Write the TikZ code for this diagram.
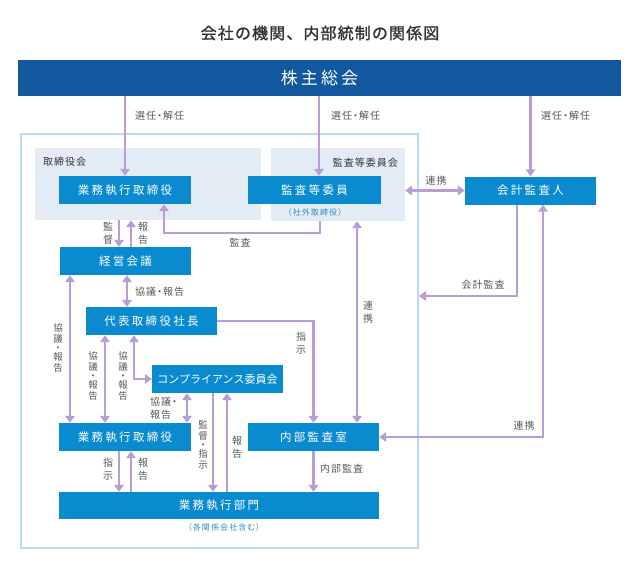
\documentclass[tikz,border=0pt]{standalone}
\usepackage{fontspec}
\setmainfont{Noto Sans CJK JP}
\newfontfamily\jp{Noto Sans CJK JP}
\newfontfamily\jpt[LetterSpace=7,FakeBold=1.2]{Noto Sans CJK JP}
\newfontfamily\jpbar[LetterSpace=18]{Noto Sans CJK JP}
\newfontfamily\jpbox[LetterSpace=20]{Noto Sans CJK JP}
\newfontfamily\jplbl[LetterSpace=10,RawFeature=+palt]{Noto Sans CJK JP}
\newfontfamily\jpsm[LetterSpace=14,RawFeature=+palt]{Noto Sans CJK JP}
\usetikzlibrary{arrows.meta,calc}
\definecolor{barblue}{HTML}{12589E}
\definecolor{boxblue}{HTML}{0A8BCF}
\definecolor{panelbg}{HTML}{E3ECF5}
\definecolor{framec}{HTML}{B5DCF2}
\definecolor{arr}{HTML}{B99CDA}
\definecolor{lblgray}{HTML}{595959}
\definecolor{titlegray}{HTML}{333333}
\definecolor{smblue}{HTML}{2A8BD0}
\begin{document}
\begin{tikzpicture}[x=1pt,y=-1pt,
  box/.style={fill=boxblue, text=white, inner sep=0pt, minimum height=28pt, minimum width=131pt, font=\fontsize{11.5}{13}\jpbox},
  panel/.style={fill=panelbg, inner sep=0pt},
  lbl/.style={text=lblgray, inner sep=0pt, font=\fontsize{10}{12}\jplbl},
  vlbl/.style={text=lblgray, inner sep=0pt, align=center, font=\fontsize{9.5}{11}\jp},
  vlbltwo/.style={text=lblgray, inner sep=0pt, align=center, font=\fontsize{10}{12.5}\jp},
  smlbl/.style={text=smblue, inner sep=0pt, font=\fontsize{8}{10}\jpsm},
  con/.style={draw=arr, line width=2.6pt, -{Triangle[length=7pt,width=9.5pt]}},
  dcon/.style={draw=arr, line width=2.6pt, {Triangle[length=7pt,width=9.5pt]}-{Triangle[length=7pt,width=9.5pt]}},
]
\useasboundingbox[fill=white] (0,0) rectangle (640,584);

% title
\node[text=titlegray, font=\fontsize{16}{18}\jpt] (title) at (320,33) {会社の機関、内部統制の関係図};

% shareholders bar
\node[box, fill=barblue, minimum width=603pt, minimum height=36pt, font=\fontsize{17}{19}\jpbar] (soukai) at (319.5,78) {株主総会};

% outer frame and panels
\node[draw=framec, line width=2pt, minimum width=397pt, minimum height=414pt, inner sep=0pt] (outer) at (219.5,341) {};
\node[panel, minimum width=226pt, minimum height=72pt] (panel1) at (148,184) {};
\node[panel, minimum width=134pt, minimum height=73pt] (panel2) at (338,184.5) {};

% boxes
\node[box, minimum width=132pt] (gyoumuA) at (125,190) {業務執行取締役};
\node[box, minimum width=133pt] (kansa) at (314.5,190) {監査等委員};
\node[box] (kaikei) at (530.5,190.5) {会計監査人};
\node[box] (keiei) at (125.5,261) {経営会議};
\node[box] (daihyo) at (151.5,321) {代表取締役社長};
\node[box, font=\fontsize{11}{13}\jp] (comp) at (217.5,379) {コンプライアンス委員会};
\node[box, minimum width=132pt] (gyoumuB) at (125,437) {業務執行取締役};
\node[box] (naibu) at (313.5,437) {内部監査室};
\node[box, minimum width=320pt, minimum height=27pt] (bumon) at (219,505.5) {業務執行部門};

% x positions
\coordinate (X70) at (70,0);
\coordinate (X105) at (105,0);
\coordinate (X119) at (119,0);
\coordinate (X127) at (127,0);
\coordinate (X131) at (131,0);
\coordinate (X134) at (134,0);
\coordinate (X187) at (187,0);
\coordinate (X213) at (213,0);
\coordinate (X227) at (227,0);
\coordinate (X319) at (319,0);
\coordinate (X357) at (357,0);
\coordinate (X543) at (543,0);
\coordinate (a1) at (320,233);
\coordinate (a2) at (164,233);
\coordinate (c1) at (517,296);

% connectors
\draw[con] (soukai.south -| gyoumuA.north) -- (gyoumuA.north);
\draw[con] (soukai.south -| X319) -- (kansa.north -| X319);
\draw[con] (soukai.south -| kaikei.north) -- (kaikei.north);
\draw[dcon] (panel2.east |- kaikei.west) -- (kaikei.west);
\draw[con] (panel2.south -| a1) -- (a1) -- (a2) -- (gyoumuA.south -| a2);
\draw[con] (panel1.south -| X119) -- (keiei.north -| X119);
\draw[con] (keiei.north -| X131) -- (panel1.south -| X131);
\draw[dcon] (keiei.south -| X127) -- (daihyo.north -| X127);
\draw[dcon] (keiei.south -| X70) -- (gyoumuB.north -| X70);
\draw[dcon] (daihyo.south -| X105) -- (gyoumuB.north -| X105);
\draw[dcon] (daihyo.south -| X134) |- (comp.west);
\draw[dcon] (comp.south -| X187) -- (gyoumuB.north -| X187);
\draw[con] (comp.south -| X213) -- (bumon.north -| X213);
\draw[con] (bumon.north -| X227) -- (comp.south -| X227);
\draw[con] (gyoumuB.south -| X119) -- (bumon.north -| X119);
\draw[con] (bumon.north -| X131) -- (gyoumuB.south -| X131);
\draw[con] (naibu.south) -- (bumon.north -| naibu.south);
\draw[con] (daihyo.east) -| (naibu.north);
\draw[dcon] (naibu.north -| X357) -- (panel2.south -| X357);
\draw[con] (kaikei.south -| c1) -- (c1) -- (outer.east |- c1);
\draw[dcon] (kaikei.south -| X543) |- (naibu.east);

% labels
\node[lbl, anchor=west] (l1) at (135,116) {選任・解任};
\node[lbl, anchor=west] (l2) at (331,116) {選任・解任};
\node[lbl, anchor=west] (l3) at (541,116) {選任・解任};
\node[lbl, anchor=west, text=titlegray] (l4) at (43,162) {取締役会};
\node[lbl, anchor=east, text=titlegray] (l5) at (398,163) {監査等委員会};
\node[smlbl] (l6) at (315,212) {（社外取締役）};
\node[lbl] (l7) at (436,181) {連携};
\node[lbl] (l8) at (240,243) {監査};
\node[vlbltwo] (l9) at (108,233) {監\\督};
\node[vlbltwo] (l10) at (143,233) {報\\告};
\node[lbl, anchor=west] (l11) at (135,292) {協議・報告};
\node[vlbl] (l12) at (58,348) {協\\議\\[-2pt]・\\[-2pt]報\\告};
\node[vlbl] (l13) at (93,376) {協\\議\\[-2pt]・\\[-2pt]報\\告};
\node[vlbl] (l14) at (123,376) {協\\議\\[-2pt]・\\[-2pt]報\\告};
\node[lbl, anchor=west, align=left, font=\fontsize{10}{13}\jplbl] (l15) at (150,408.5) {協議・\\報告};
\node[vlbl] (l16) at (203,445) {監\\督\\[-2pt]・\\[-2pt]指\\示};
\node[vlbltwo] (l17) at (237,447) {報\\告};
\node[vlbltwo] (l18) at (301,343) {指\\示};
\node[vlbltwo] (l19) at (368,312) {連\\携};
\node[lbl] (l20) at (483,285) {会計監査};
\node[lbl] (l21) at (524,426) {連携};
\node[vlbltwo] (l22) at (108,469) {指\\示};
\node[vlbltwo] (l23) at (143,469) {報\\告};
\node[lbl, anchor=west] (l24) at (320,469) {内部監査};
\node[smlbl] (l25) at (224,527) {（各関係会社含む）};
\end{tikzpicture}
\end{document}
